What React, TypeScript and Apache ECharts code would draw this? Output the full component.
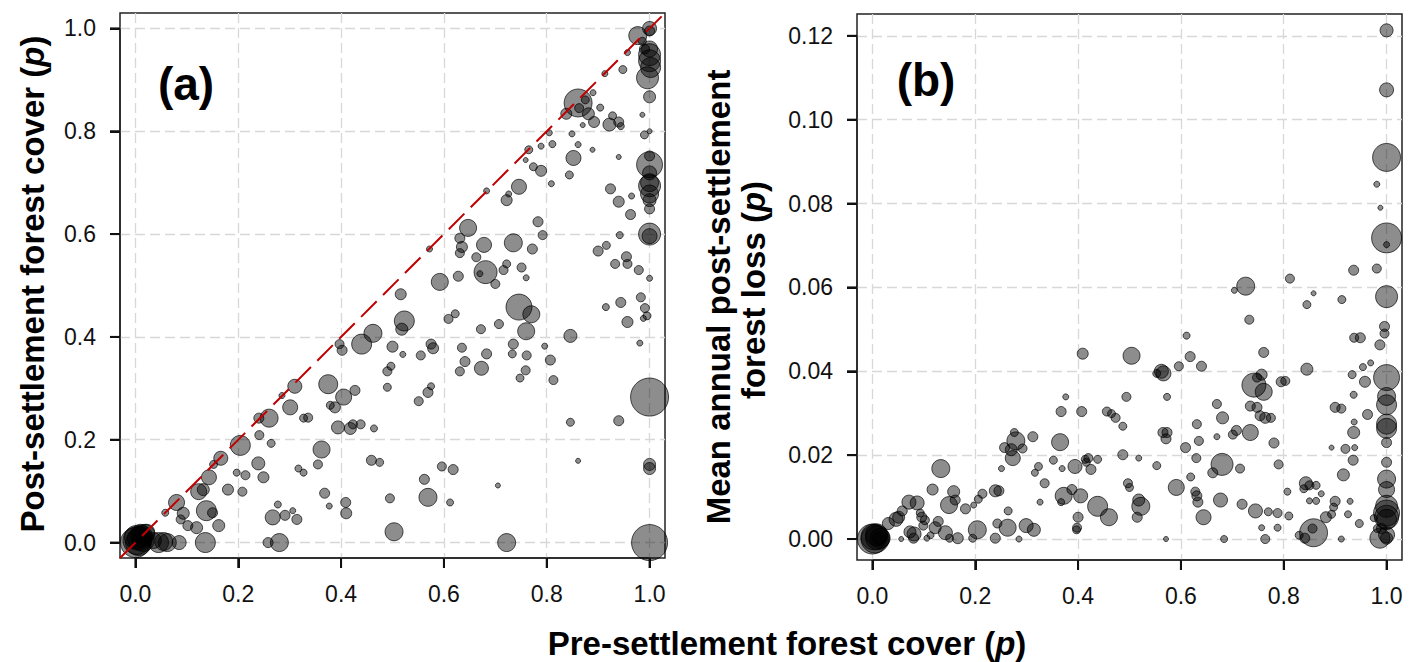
import React, { useEffect, useRef } from "react";
import * as echarts from "echarts";

// Panel (a): [pre-settlement cover, post-settlement cover, bubble diameter]
const coverA: number[][] = [
  [0,0,30],[0.003,0.004,28],[0.008,0.008,24],[0.012,0.012,22],[0.018,0.016,20],[0.006,0,26],[0.015,0.004,22],[0.002,0.01,24],[0.022,0.02,16],[0.01,0.018,18],
  [0.045,0,20],[0.055,0.002,18],[0.062,0,18],[0.085,0,14],[0.035,0.004,16],
  [0.058,0.058,7],[0.08,0.078,16],[0.093,0.057,12],[0.102,0.033,10],[0.088,0.045,9],[0.119,0.029,12],[0.123,0.099,16],[0.132,0.103,12],
  [0.143,0.127,15],[0.136,0,20],[0.138,0.062,20],[0.15,0.058,10],[0.162,0.033,12],[0.166,0.164,14],[0.152,0.152,8],[0.18,0.103,11],
  [0.204,0.189,20],[0.197,0.136,7],[0.208,0.099,9],[0.214,0.131,9],[0.239,0.154,13],[0.24,0.242,10],[0.26,0.242,18],[0.241,0.209,9],
  [0.249,0.127,11],[0.264,0.193,8],[0.258,0,10],[0.267,0.049,15],[0.28,0,18],[0.277,0.074,7],[0.291,0.053,10],[0.306,0.062,6],[0.314,0.045,10],
  [0.285,0.286,6],[0.301,0.263,15],[0.31,0.304,14],[0.317,0.144,7],[0.327,0.136,7],[0.327,0.242,8],[0.336,0.243,9],
  [0.355,0.152,9],[0.362,0.181,17],[0.368,0.096,10],[0.377,0.071,6],[0.375,0.308,19],[0.379,0.267,8],[0.388,0.263,11],[0.405,0.283,16],
  [0.402,0.374,10],[0.397,0.386,9],[0.394,0.224,13],[0.418,0.222,12],[0.423,0.23,9],[0.427,0.296,10],[0.409,0.078,10],[0.41,0.057,11],
  [0.438,0.23,9],[0.44,0.386,20],[0.462,0.407,18],[0.464,0.222,7],[0.459,0.16,10],[0.475,0.156,8],[0.49,0.333,9],[0.497,0.343,8],
  [0.49,0.302,8],[0.495,0.086,9],[0.5,0.381,11],[0.503,0.021,18],[0.516,0.483,11],[0.523,0.431,20],[0.518,0.415,12],[0.52,0.366,6],
  [0.551,0.275,9],[0.555,0.364,9],[0.562,0.123,10],[0.569,0.088,18],[0.569,0.292,10],[0.575,0.304,7],[0.575,0.386,10],[0.579,0.378,11],
  [0.572,0.571,6],[0.592,0.507,17],[0.596,0.148,9],[0.609,0.435,9],[0.622,0.445,8],[0.618,0.142,10],[0.612,0.078,7],[0.628,0.518,10],
  [0.631,0.592,10],[0.635,0.575,11],[0.631,0.563,9],[0.647,0.612,17],[0.635,0.379,9],[0.641,0.352,10],[0.631,0.333,9],[0.663,0.555,9],
  [0.681,0.526,23],[0.67,0.523,6],[0.678,0.579,15],[0.672,0.415,9],[0.683,0.367,10],[0.673,0.339,14],[0.683,0.684,6],[0.7,0.503,9],
  [0.705,0.111,5],[0.707,0.425,9],[0.722,0,18],[0.716,0.53,9],[0.722,0.542,8],[0.722,0.666,11],[0.726,0.678,6],[0.735,0.583,18],
  [0.735,0.386,10],[0.733,0.367,8],[0.746,0.458,26],[0.751,0.535,9],[0.76,0.515,6],[0.746,0.692,15],[0.76,0.411,17],[0.77,0.444,17],
  [0.761,0.364,9],[0.759,0.335,9],[0.748,0.32,8],[0.765,0.764,8],[0.759,0.744,5],[0.772,0.571,10],[0.774,0.731,8],[0.789,0.723,11],
  [0.783,0.624,10],[0.789,0.771,6],[0.792,0.598,9],[0.796,0.382,6],[0.805,0.797,6],[0.807,0.355,10],[0.809,0.698,6],[0.811,0.775,7],
  [0.813,0.316,9],[0.846,0.402,13],[0.846,0.234,8],[0.844,0.715,8],[0.852,0.748,15],[0.861,0.855,28],[0.838,0.834,11],[0.863,0.845,9],
  [0.849,0.795,6],[0.861,0.774,6],[0.861,0.159,5],[0.87,0.812,5],[0.881,0.834,12],[0.875,0.861,8],[0.89,0.875,6],[0.892,0.818,11],
  [0.889,0.764,5],[0.9,0.567,10],[0.916,0.578,8],[0.904,0.846,7],[0.922,0.813,13],[0.928,0.83,8],[0.913,0.912,6],[0.915,0.458,7],
  [0.924,0.688,10],[0.933,0.542,9],[0.94,0.663,11],[0.94,0.818,10],[0.944,0.81,7],[0.94,0.75,5],[0.94,0.237,10],[0.942,0.598,7],
  [0.944,0.467,10],[0.948,0.92,8],[0.955,0.556,10],[0.957,0.542,9],[0.957,0.429,11],[0.963,0.638,10],[0.965,0.674,6],[0.957,0.953,6],
  [0.979,0.53,9],[0.983,0.477,9],[0.981,0.388,6],[0.986,0.832,5],[0.988,0.436,6],[0.99,0.793,8],[0.991,0.456,9],[0.995,0.441,8],
  [1,0.514,6],[1,0.8,5],[0.977,0.986,18],[0.986,0.975,8],[0.99,0.96,10],
  [1,1,14],[1,0.995,10],[1,0.949,22],[1,0.937,22],[1.002,0.924,20],[0.996,0.904,22],[1,0.96,16],[1,0.867,12],[1,0.735,26],[1,0.752,10],
  [1,0.719,14],[1,0.694,22],[1,0.678,18],[1,0.666,13],[1,0.649,10],[1,0.7,18],[1,0.6,22],[1,0.596,15],[1,0.283,38],[1,0.152,12],[1,0.144,12],[1,0,36]
];

// Panel (b): [pre-settlement cover, mean annual loss, bubble diameter]
const lossB: number[][] = [
  [0,0,30],[0.005,0,28],[0.01,0.0003,24],[0.003,0.0005,26],[0.015,0.0002,20],[0.008,0.001,22],[0.013,0.0002,12],
  [0.031,0.0037,12],[0.046,0.0047,14],[0.051,0.0052,12],[0.058,0.0067,10],[0.071,0.0088,14],[0.087,0.0086,14],[0.056,0,5],
  [0.073,0.0017,12],[0.08,0.0002,10],[0.081,0.0012,14],[0.096,0.0052,10],[0.102,0.0045,9],[0.099,0.0032,9],[0.093,0.0062,8],[0.106,0.0002,6],
  [0.117,0.0118,11],[0.113,0.0009,7],[0.122,0.0027,12],[0.128,0.0042,10],[0.133,0.0168,18],[0.142,0.0015,14],[0.15,0.0002,8],
  [0.149,0.0081,17],[0.158,0.0113,12],[0.161,0.0093,10],[0.166,0.0002,11],[0.181,0.0072,10],[0.197,0.0081,6],[0.206,0.0095,8],[0.214,0.0108,9],
  [0.195,0.0002,8],[0.204,0.0022,18],[0.239,0.0115,12],[0.246,0.0115,10],[0.239,0.0002,10],[0.243,0.0037,9],[0.251,0.0168,6],[0.264,0.0067,8],
  [0.263,0.0027,17],[0.257,0.0218,10],[0.276,0.0254,8],[0.279,0.0234,18],[0.273,0.0193,15],[0.27,0.0213,12],[0.292,0.0216,9],[0.285,0,6],
  [0.299,0.0032,14],[0.314,0.0022,13],[0.312,0.0244,10],[0.323,0.0173,8],[0.316,0.0158,7],[0.326,0.0088,6],[0.335,0.0133,9],
  [0.352,0.0188,8],[0.369,0.0168,6],[0.365,0.0231,17],[0.367,0.0304,10],[0.376,0.0339,6],[0.372,0.0103,17],[0.367,0.0088,7],
  [0.388,0.0118,10],[0.394,0.0173,14],[0.405,0.0103,14],[0.398,0.0027,9],[0.4,0.0052,10],[0.397,0.0022,8],[0.407,0.0304,10],[0.409,0.0442,11],
  [0.414,0.019,8],[0.42,0.0193,9],[0.425,0.0166,10],[0.416,0.0183,8],[0.438,0.019,8],[0.438,0.0078,20],[0.46,0.0052,17],
  [0.456,0.0304,9],[0.465,0.0299,8],[0.473,0.0289,9],[0.487,0.0269,8],[0.487,0.0201,10],[0.494,0.0339,9],[0.504,0.0437,17],
  [0.497,0.0133,9],[0.5,0.0123,8],[0.518,0.0193,6],[0.522,0.0078,18],[0.518,0.0093,12],[0.515,0.0052,10],
  [0.553,0.0395,8],[0.562,0.04,14],[0.566,0.0395,15],[0.553,0.0175,8],[0.565,0.0254,10],[0.573,0.0254,10],[0.571,0.0239,10],
  [0.573,0.0339,7],[0.571,0,5],[0.596,0.0412,9],[0.591,0.0123,16],[0.609,0.0218,10],[0.611,0.0485,7],[0.618,0.0435,10],[0.619,0.0148,8],
  [0.628,0.0113,9],[0.631,0.0103,10],[0.631,0.0274,9],[0.63,0.0193,9],[0.635,0.0234,9],[0.633,0.0088,10],[0.64,0.0412,10],[0.644,0.0052,15],
  [0.662,0.0158,10],[0.67,0.0322,9],[0.67,0.0244,6],[0.677,0.0093,14],[0.68,0.0178,22],[0.681,0.0289,12],[0.684,0,7],
  [0.701,0.0249,9],[0.708,0.0259,10],[0.704,0.0593,6],[0.726,0.0603,18],[0.715,0.0168,9],[0.719,0.0083,10],[0.735,0.0254,16],
  [0.733,0.0523,9],[0.735,0.0317,10],[0.745,0.0067,14],[0.742,0.0367,24],[0.757,0.0392,11],[0.748,0.0385,9],[0.761,0.0351,17],
  [0.764,0.0289,11],[0.754,0.0294,10],[0.748,0.0314,10],[0.775,0.0289,9],[0.761,0.0445,10],[0.757,0.0027,6],[0.764,0,9],
  [0.77,0.0065,8],[0.781,0.0229,10],[0.788,0.0062,9],[0.788,0.0027,7],[0.79,0.0178,9],[0.795,0.0375,10],[0.803,0.0377,9],
  [0.812,0.0621,9],[0.807,0.0113,7],[0.81,0.0055,8],[0.83,0.0009,8],[0.845,0.0405,12],[0.845,0.0559,8],[0.858,0.0586,5],
  [0.843,0.0133,13],[0.85,0.0128,9],[0.839,0.012,8],[0.841,0.0002,10],[0.85,0.0091,6],[0.863,0.0091,7],[0.858,0.0015,28],[0.856,0.0025,9],
  [0.863,0.0128,8],[0.873,0.0108,6],[0.882,0.0052,11],[0.893,0.0059,8],[0.893,0.0218,5],[0.9,0.009,10],[0.897,0.0076,8],
  [0.9,0.0314,10],[0.912,0.0311,9],[0.913,0.0571,8],[0.916,0.0153,12],[0.912,0,6],[0.92,0.0215,9],[0.925,0.0059,7],[0.929,0.009,6],
  [0.933,0.0392,8],[0.935,0.0188,10],[0.936,0.0641,10],[0.936,0.0344,7],[0.936,0.0254,12],[0.937,0.048,9],[0.949,0.048,10],
  [0.937,0.0279,6],[0.938,0.0218,6],[0.947,0.0037,8],[0.954,0.041,7],[0.958,0.0375,11],[0.963,0.0297,10],[0.969,0.042,6],
  [0.981,0.0645,9],[0.981,0.0846,6],[0.988,0.079,5],[0.987,0.0463,10],[0.996,0.0507,10],[0.996,0.049,9],[0.987,0.0002,20],
  [0.975,0.005,7],[0.982,0.0025,8],[0.99,0.0025,10],
  [1,0.1213,13],[1,0.1071,14],[1,0.091,28],[1,0.0718,30],[1,0.0702,6],[1,0.0578,22],[1,0.0385,26],[1,0.034,18],[1,0.032,20],
  [1,0.0274,20],[1,0.0264,20],[1,0.023,10],[1,0.0183,10],[1,0.0143,18],[1,0.0118,16],[1,0.0078,22],[1,0.0062,26],[1,0.0052,24],
  [1,0.0047,20],[1,0.0002,12],[1,0.001,16]
];

const ticksA = [0, 0.2, 0.4, 0.6, 0.8, 1.0];
const ticksBy = [0, 0.02, 0.04, 0.06, 0.08, 0.1, 0.12];
const oneToOne = [[-0.03, -0.03], [1.03, 1.03]];

const FONT = "'Liberation Sans', Arial, sans-serif";

// panel frames (the plotting boxes) and their axis ranges
const boxA = { left: 120, top: 13, width: 545, height: 545 };
const boxB = { left: 857, top: 14, width: 545, height: 546 };
const xRange = [-0.03, 1.03];
const yRangeA = [-0.03, 1.03];
const yRangeB = [-0.005, 0.1252];

// inner grid covering exactly [lo, hi] of each axis, so R-style labels start at 0
function innerGrid(box: any, xr: number[], yr: number[], xLo: number, xHi: number, yLo: number, yHi: number) {
  const sx = box.width / (xr[1] - xr[0]);
  const sy = box.height / (yr[1] - yr[0]);
  const left = box.left + (xLo - xr[0]) * sx;
  const width = (xHi - xLo) * sx;
  const top = box.top + (yr[1] - yHi) * sy;
  const height = (yHi - yLo) * sy;
  return {
    grid: { left, top, width, height, show: false },
    xOffset: box.top + box.height - (top + height),
    yOffset: left - box.left,
  };
}

const TICK_LEN = 10;

export default function App() {
  const ref = useRef<HTMLDivElement>(null);
  useEffect(() => {
    if (!ref.current) return;
    const chart = echarts.init(ref.current, undefined, { renderer: "svg" });
    const gridLine = { show: true, lineStyle: { color: "#d8d8d8", width: 1.3, type: [10, 5] } };
    const lblStyle = { show: true, color: "#111", fontSize: 23, fontFamily: FONT, margin: 24 };

    const innerA = innerGrid(boxA, xRange, yRangeA, 0, 1, 0, 1);
    const innerB = innerGrid(boxB, xRange, yRangeB, 0, 1, 0, 0.12);

    const mainX = (gi: number) => ({
      type: "value", gridIndex: gi, min: xRange[0], max: xRange[1],
      axisLine: { show: false }, axisLabel: { show: false },
      axisTick: { show: false, customValues: ticksA },
      splitLine: gridLine,
    });
    const mainY = (gi: number, yr: number[], vals: number[]) => ({
      type: "value", gridIndex: gi, min: yr[0], max: yr[1],
      axisLine: { show: false }, axisLabel: { show: false },
      axisTick: { show: false, customValues: vals },
      splitLine: gridLine,
    });
    const labelAxis = (gi: number, max: number, interval: number, dec: number, offset: number, pos: string) => ({
      type: "value", gridIndex: gi, min: 0, max, interval, offset, position: pos,
      axisLine: { show: true, onZero: false, lineStyle: { color: "#222", width: 1.5 } },
      axisTick: { show: true, inside: false, length: TICK_LEN, lineStyle: { color: "#111", width: 2 } },
      axisLabel: { ...lblStyle, formatter: (v: number) => v.toFixed(dec) },
      splitLine: { show: false },
    });
    // tick marks: short line segments drawn outward from the frame at each tick value
    const tickSeries = (xi: number, yi: number, data: number[][], horizontal: boolean) => ({
      type: "custom", xAxisIndex: xi, yAxisIndex: yi, clip: false, silent: true, z: 10,
      data,
      renderItem: (_params: any, api: any) => {
        const p = api.coord([api.value(0), api.value(1)]);
        return {
          type: "line",
          shape: horizontal
            ? { x1: p[0] - TICK_LEN, y1: p[1], x2: p[0], y2: p[1] }
            : { x1: p[0], y1: p[1], x2: p[0], y2: p[1] + TICK_LEN },
          style: { stroke: "#111", lineWidth: 2 },
        };
      },
    });

    const bubble = {
      color: "rgba(0,0,0,0.56)",
      borderColor: "rgba(0,0,0,0.85)",
      borderWidth: 1,
    };
    const rich = (size: number) => ({
      b: { fontFamily: FONT, fontWeight: "bold", fontSize: size, fill: "#000" },
      i: { fontFamily: FONT, fontWeight: "bold", fontStyle: "italic", fontSize: size, fill: "#000" },
    });
    chart.setOption({
      animation: false,
      backgroundColor: "#fff",
      grid: [
        { ...boxA, show: true, borderColor: "#222", borderWidth: 1.5, backgroundColor: "transparent" },
        { ...boxB, show: true, borderColor: "#222", borderWidth: 1.5, backgroundColor: "transparent" },
        innerA.grid,
        innerB.grid,
      ],
      xAxis: [
        mainX(0),
        mainX(1),
        labelAxis(2, 1, 0.2, 1, innerA.xOffset, "bottom"),
        labelAxis(3, 1, 0.2, 1, innerB.xOffset, "bottom"),
      ],
      yAxis: [
        mainY(0, yRangeA, ticksA),
        mainY(1, yRangeB, ticksBy),
        labelAxis(2, 1, 0.2, 1, innerA.yOffset, "left"),
        labelAxis(3, 0.12, 0.02, 2, innerB.yOffset, "left"),
      ],
      series: [
        {
          type: "scatter", xAxisIndex: 0, yAxisIndex: 0, clip: false,
          data: coverA.map((d) => [d[0], d[1], d[2]]),
          symbolSize: (d: number[]) => d[2],
          itemStyle: bubble, z: 2,
        },
        {
          type: "line", xAxisIndex: 0, yAxisIndex: 0, data: oneToOne, symbol: "none",
          lineStyle: { color: "#c00000", width: 2, type: [22, 9] }, z: 3, silent: true,
        },
        {
          type: "scatter", xAxisIndex: 1, yAxisIndex: 1, clip: false,
          data: lossB.map((d) => [d[0], d[1], d[2]]),
          symbolSize: (d: number[]) => d[2],
          itemStyle: bubble, z: 2,
        },
        tickSeries(0, 0, ticksA.map((v) => [v, yRangeA[0]]), false),
        tickSeries(0, 0, ticksA.map((v) => [xRange[0], v]), true),
        tickSeries(1, 1, ticksA.map((v) => [v, yRangeB[0]]), false),
        tickSeries(1, 1, ticksBy.map((v) => [xRange[0], v]), true),
      ],
      graphic: [
        { type: "text", x: 186, y: 84, style: { text: "(a)", font: `bold 46px ${FONT}`, fill: "#000", align: "center", verticalAlign: "middle" } },
        { type: "text", x: 926, y: 80, style: { text: "(b)", font: `bold 46px ${FONT}`, fill: "#000", align: "center", verticalAlign: "middle" } },
        {
          type: "text", x: 32, y: 284, rotation: Math.PI / 2,
          style: { text: "{b|Post-settlement forest cover (}{i|p}{b|)}", rich: rich(33), align: "center", verticalAlign: "middle" },
        },
        {
          type: "text", x: 718, y: 297, rotation: Math.PI / 2,
          style: { text: "{b|Mean annual post-settlement}", rich: rich(33), align: "center", verticalAlign: "middle" },
        },
        {
          type: "text", x: 753, y: 290, rotation: Math.PI / 2,
          style: { text: "{b|forest loss (}{i|p}{b|)}", rich: rich(33), align: "center", verticalAlign: "middle" },
        },
        {
          type: "text", x: 787, y: 643,
          style: { text: "{b|Pre-settlement forest cover (}{i|p}{b|)}", rich: rich(33), align: "center", verticalAlign: "middle" },
        },
      ],
    });
    return () => chart.dispose();
  }, []);
  return (
    <div
      ref={ref}
      style={{ position: "fixed", left: 0, top: 0, width: 1414, height: 662, background: "#fff" }}
    />
  );
}
